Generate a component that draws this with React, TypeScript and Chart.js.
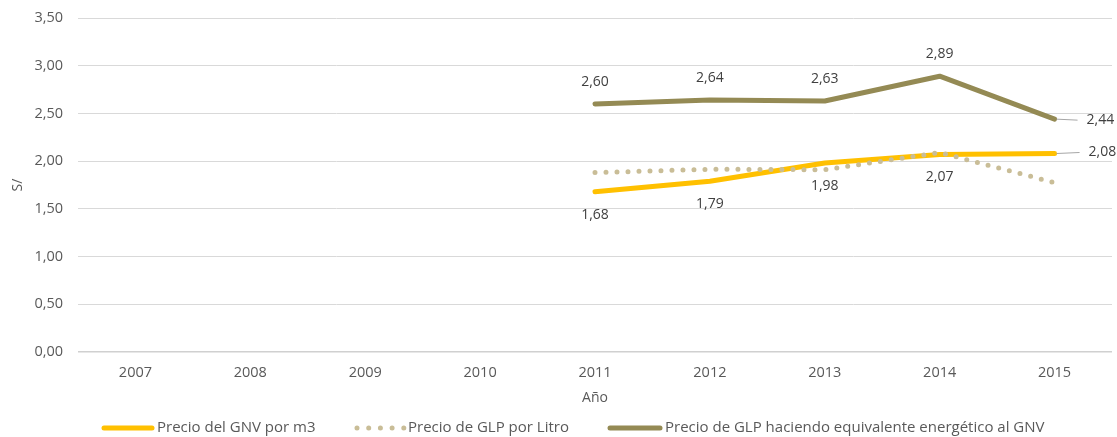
import React, { useEffect, useRef } from "react";
import { Chart, registerables } from "chart.js";

Chart.register(...registerables);

const years = ["2007", "2008", "2009", "2010", "2011", "2012", "2013", "2014", "2015"];
const gnvM3 = [null, null, null, null, 1.68, 1.79, 1.98, 2.07, 2.08];
const glpLitro = [null, null, null, null, 1.88, 1.915, 1.91, 2.09, 1.775];
const glpEquiv = [null, null, null, null, 2.6, 2.64, 2.63, 2.89, 2.44];
const yTicks = [0, 0.5, 1, 1.5, 2, 2.5, 3, 3.5];
const seriesNames = [
  "Precio del GNV por m3",
  "Precio de GLP por Litro",
  "Precio de GLP haciendo equivalente energético al GNV",
];

const YELLOW = "#FFC000";
const TAN = "#C9BD97";
const OLIVE = "#948A54";
const TEXT = "#595959";
const LABEL = "#404040";
const FONT = "Open Sans";

const fmt = (v: number) => v.toFixed(2).replace(".", ",");

const labelPlugin = {
  id: "valueLabels",
  afterDatasetsDraw(chart: any) {
    const ctx: CanvasRenderingContext2D = chart.ctx;
    ctx.save();
    ctx.font = `14px "${FONT}"`;
    ctx.fillStyle = LABEL;
    ctx.textBaseline = "middle";
    const specs = [
      { ds: 0, dy: 23, ldy: -1, lx: 25, tx: 34 },
      { ds: 2, dy: -22, ldy: 1, lx: 23, tx: 32 },
    ];
    for (const s of specs) {
      const meta = chart.getDatasetMeta(s.ds);
      const data = chart.data.datasets[s.ds].data as (number | null)[];
      meta.data.forEach((pt: any, i: number) => {
        const v = data[i];
        if (v == null) return;
        const txt = fmt(v);
        if (i === data.length - 1) {
          ctx.strokeStyle = "#A6A6A6";
          ctx.lineWidth = 1;
          ctx.beginPath();
          ctx.moveTo(pt.x + 2, pt.y);
          ctx.lineTo(pt.x + s.lx, pt.y + s.ldy);
          ctx.stroke();
          ctx.textAlign = "left";
          ctx.fillText(txt, pt.x + s.tx, pt.y + s.ldy);
        } else {
          ctx.textAlign = "center";
          ctx.fillText(txt, pt.x, pt.y + s.dy);
        }
      });
    }
    ctx.restore();
  },
};

const legendPlugin = {
  id: "bottomLegend",
  afterDraw(chart: any) {
    const ctx: CanvasRenderingContext2D = chart.ctx;
    ctx.save();
    const ly = 428;
    const starts = [102, 355, 608];
    const lineLen = [52, 50, 54];
    const colors = [YELLOW, TAN, OLIVE];
    starts.forEach((sx, k) => {
      ctx.save();
      ctx.strokeStyle = colors[k];
      ctx.lineWidth = 5;
      ctx.beginPath();
      if (k === 1) {
        ctx.setLineDash([0, 11.7]);
        ctx.lineCap = "round";
        ctx.moveTo(sx + 2, ly);
        ctx.lineTo(sx + lineLen[k], ly);
      } else {
        ctx.lineCap = "round";
        ctx.moveTo(sx + 2, ly);
        ctx.lineTo(sx + lineLen[k] - 2, ly);
      }
      ctx.stroke();
      ctx.restore();
      ctx.fillStyle = TEXT;
      ctx.font = `15px "${FONT}"`;
      ctx.textAlign = "left";
      ctx.textBaseline = "middle";
      ctx.fillText(seriesNames[k], sx + lineLen[k] + 3, ly);
    });
    ctx.restore();
  },
};

export default function App() {
  const ref = useRef<HTMLCanvasElement | null>(null);
  useEffect(() => {
    document.body.style.margin = "0";
    const canvas = ref.current;
    if (!canvas) return;
    const chart = new Chart(canvas, {
      type: "line",
      data: {
        labels: years,
        datasets: [
          {
            label: seriesNames[0],
            data: gnvM3,
            borderColor: YELLOW,
            backgroundColor: YELLOW,
            borderWidth: 5,
            pointRadius: 0,
            tension: 0,
            borderJoinStyle: "round",
            borderCapStyle: "round",
            order: 1,
          },
          {
            label: seriesNames[1],
            data: glpLitro,
            borderColor: TAN,
            backgroundColor: TAN,
            borderWidth: 5,
            borderDash: [0, 11],
            borderCapStyle: "round",
            pointRadius: 0,
            tension: 0,
            order: 0,
          },
          {
            label: seriesNames[2],
            data: glpEquiv,
            borderColor: OLIVE,
            backgroundColor: OLIVE,
            borderWidth: 5,
            pointRadius: 0,
            tension: 0,
            borderJoinStyle: "round",
            borderCapStyle: "round",
            order: 2,
          },
        ],
      },
      options: {
        responsive: false,
        animation: false,
        layout: { padding: { top: 18, right: 5, bottom: 0, left: 0 } },
        plugins: {
          legend: { display: false },
          tooltip: { enabled: false },
        },
        scales: {
          x: {
            offset: true,
            grid: { display: false, drawTicks: false },
            border: { display: false },
            ticks: {
              color: TEXT,
              padding: 12,
              maxRotation: 0,
              font: { family: FONT, size: 14.5 },
            },
            title: {
              display: true,
              text: "Año",
              color: TEXT,
              font: { family: FONT, size: 14 },
              padding: { top: 0, bottom: 31 },
            },
            afterFit: (s: any) => {
              s.height = 85;
              s.paddingLeft = 0;
              s.paddingRight = 0;
            },
          },
          y: {
            min: 0,
            max: 3.5,
            afterBuildTicks: (s: any) => {
              s.ticks = yTicks.map((v) => ({ value: v }));
            },
            afterFit: (s: any) => {
              s.width = 78;
              s.paddingTop = 0;
              s.paddingBottom = 0;
            },
            grid: {
              color: (c: any) => (c.tick && c.tick.value === 0 ? "#D0D0D0" : "#D9D9D9"),
              lineWidth: (c: any) => (c.tick && c.tick.value === 0 ? 1.5 : 1),
              drawTicks: false,
            },
            border: { display: false },
            ticks: {
              padding: 15,
              color: TEXT,
              font: { family: FONT, size: 14.5 },
              callback: (v: any) => fmt(Number(v)),
            },
            title: {
              display: true,
              text: "S/",
              color: TEXT,
              font: { family: FONT, size: 14 },
              padding: { top: 10, bottom: 0 },
            },
          },
        },
      },
      plugins: [labelPlugin, legendPlugin],
    });
    return () => chart.destroy();
  }, []);
  return (
    <div style={{ width: 1117, height: 437 }}>
      <canvas ref={ref} width={1117} height={437} style={{ display: "block" }} />
    </div>
  );
}
